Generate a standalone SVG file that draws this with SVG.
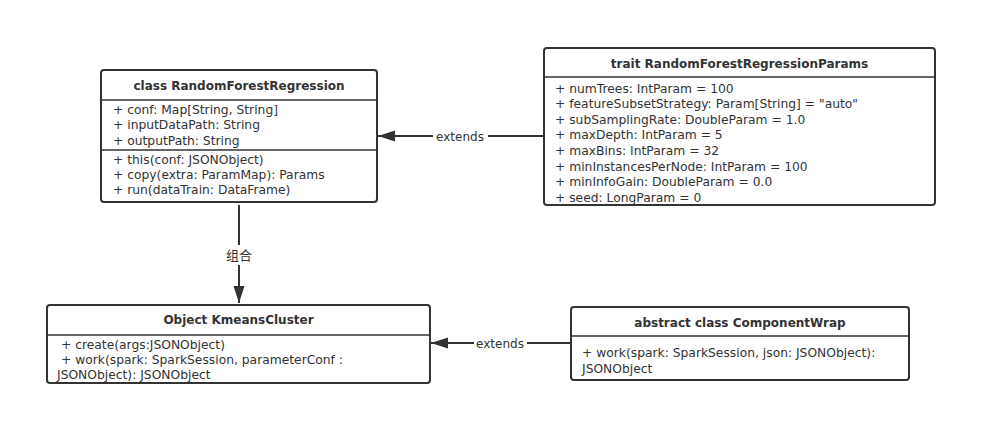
<svg xmlns="http://www.w3.org/2000/svg" width="997" height="444" viewBox="0 0 997 444">
<defs>
<marker id="arrow" markerWidth="18" markerHeight="12" refX="17" refY="6" orient="auto" markerUnits="userSpaceOnUse">
<path d="M0,0.5 L17,6 L0,11.5 Z" fill="#333333"/>
</marker>
</defs>
<style>
.box{fill:#ffffff;stroke:#333333;stroke-width:2}
.sep{stroke:#333333;stroke-width:1.6}
.title{font-family:"DejaVu Sans","Liberation Sans",sans-serif;font-size:12px;font-weight:bold;fill:#333333;text-anchor:middle}
.row{font-family:"DejaVu Sans","Liberation Sans",sans-serif;font-size:12.3px;fill:#333333}
.edge{stroke:#333333;stroke-width:2;fill:none}
.lbl{font-family:"DejaVu Sans","Noto Sans CJK SC",sans-serif;font-size:12px;fill:#333333;text-anchor:middle}
.cjk{font-family:"Noto Sans CJK SC",sans-serif;font-size:13px;fill:#333333;text-anchor:middle}
</style>
<rect width="997" height="444" fill="#ffffff"/>
<g id="connectors">
<line class="edge" x1="544" y1="136" x2="488" y2="136"/>
<line class="edge" x1="433" y1="136" x2="378" y2="136" marker-end="url(#arrow)"/>
<text class="lbl" x="460" y="140.5">extends</text>
<line class="edge" x1="239" y1="205" x2="239" y2="245"/>
<line class="edge" x1="239" y1="265" x2="239" y2="303" marker-end="url(#arrow)"/>
<text class="cjk" x="239" y="259.5">组合</text>
<line class="edge" x1="571" y1="343" x2="527" y2="343"/>
<line class="edge" x1="474" y1="343" x2="431" y2="343" marker-end="url(#arrow)"/>
<text class="lbl" x="500" y="347.5">extends</text>
</g>
<g id="RandomForestRegression">
<rect class="box" x="101" y="70" width="276" height="132" rx="3"/>
<line class="sep" x1="101" y1="100" x2="377" y2="100"/>
<line class="sep" x1="101" y1="150" x2="377" y2="150"/>
<text class="title" x="239" y="90">class RandomForestRegression</text>
<text class="row" x="113" y="113.5">+ conf: Map[String, String]</text>
<text class="row" x="113" y="129">+ inputDataPath: String</text>
<text class="row" x="113" y="144.5">+ outputPath: String</text>
<text class="row" x="113" y="163.5">+ this(conf: JSONObject)</text>
<text class="row" x="113" y="178.5">+ copy(extra: ParamMap): Params</text>
<text class="row" x="113" y="193.5">+ run(dataTrain: DataFrame)</text>
</g>
<g id="RandomForestRegressionParams">
<rect class="box" x="544" y="48" width="391" height="157" rx="3"/>
<line class="sep" x1="544" y1="77" x2="935" y2="77"/>
<text class="title" x="739.5" y="68">trait RandomForestRegressionParams</text>
<text class="row" x="555" y="92.5">+ numTrees: IntParam = 100</text>
<text class="row" x="555" y="108.1">+ featureSubsetStrategy: Param[String] = "auto"</text>
<text class="row" x="555" y="123.7">+ subSamplingRate: DoubleParam = 1.0</text>
<text class="row" x="555" y="139.3">+ maxDepth: IntParam = 5</text>
<text class="row" x="555" y="154.9">+ maxBins: IntParam = 32</text>
<text class="row" x="555" y="170.5">+ minInstancesPerNode: IntParam = 100</text>
<text class="row" x="555" y="186.1">+ minInfoGain: DoubleParam = 0.0</text>
<text class="row" x="555" y="201.7">+ seed: LongParam = 0</text>
</g>
<g id="KmeansCluster">
<rect class="box" x="47" y="305" width="383" height="78" rx="3"/>
<line class="sep" x1="47" y1="335" x2="430" y2="335"/>
<text class="title" x="238.5" y="324">Object KmeansCluster</text>
<text class="row" x="61" y="348.5">+ create(args:JSONObject)</text>
<text class="row" x="61" y="363.5">+ work(spark: SparkSession, parameterConf :</text>
<text class="row" x="57" y="379">JSONObject): JSONObject</text>
</g>
<g id="ComponentWrap">
<rect class="box" x="571" y="307" width="338" height="73" rx="3"/>
<line class="sep" x1="571" y1="336" x2="909" y2="336"/>
<text class="title" x="740" y="327">abstract class ComponentWrap</text>
<text class="row" x="582" y="356.5">+ work(spark: SparkSession, json: JSONObject):</text>
<text class="row" x="582" y="372.5">JSONObject</text>
</g>
</svg>
